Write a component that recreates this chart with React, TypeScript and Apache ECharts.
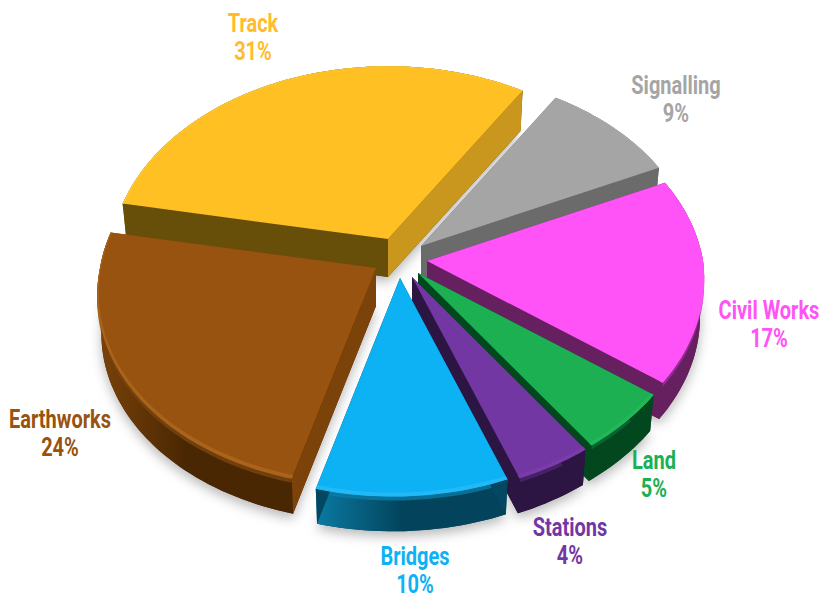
import React, { useEffect, useRef } from "react";
import * as echarts from "echarts";

const names = ["Track", "Signalling", "Civil Works", "Land", "Stations", "Bridges", "Earthworks"];
const shares = [31, 9, 17, 5, 4, 10, 24];

// styles
const topColors = ["#FFC024", "#A5A5A5", "#FF52F7", "#1CB053", "#7337A3", "#0DB2F4", "#97530F"];
const labelColors = ["#FFBC2C", "#A5A5A5", "#FF52F7", "#1CB053", "#7337A3", "#0DB2F4", "#97530F"];
const rimColors = ["#FFCC38", "#ABABAB", "#FF52F7", "#22B85A", "#7A3CA9", "#22B9F6", "#A9631A"];
const bevelColors = ["#8a6a10", "#777777", "#A030A0", "#0C6B35", "#4C2670", "#0A7CA8", "#7A4510"];
const wallLeft = ["#684F09", "#6B6B6B", "#661F5F", "#03471F", "#2C1542", "#0A7AA3", "#7A4208"];
const wallRight = ["#684F09", "#6B6B6B", "#661F5F", "#03471F", "#2C1542", "#03445C", "#4A2703"];
const startCut = ["#684F09", "#6B6B6B", "#661F5F", "#03471F", "#2C1542", "#034860", "#7B420A"];
const endCut = ["#C9971D", "#6B6B6B", "#661F5F", "#03471F", "#2C1542", "#034860", "#7B420A"];

// layout: slice apex on screen, label anchor
const apexX = [388, 421, 427, 418, 412, 400, 376];
const apexY = [239, 246, 261, 273, 277, 278, 268];
const labelX = [253, 676, 769, 654, 570, 415, 60];
const labelY = [38, 100, 325, 475, 542, 571, 434];

const START_DEG = -79.2;
const RX = 276;
const RY = 193;
const PERSP = 0.117;
const SKEW = 7;
const DEPTH = 38;
const TAPER = 0.985;
const STEP = 1.5;
const LABEL_SQUEEZE = 0.8;

function plate(i: number, deg: number, r: number, down = 0, taper = 1): number[] {
  const a = (deg * Math.PI) / 180;
  const u = Math.sin(a) * r;
  const v = -Math.cos(a) * r;
  const w = 1 / (1 - PERSP * v);
  const skew = SKEW * Math.max(0, v);
  return [apexX[i] + (RX * u * w - skew) * taper, apexY[i] + RY * v * w * taper + down];
}

function arc(i: number, a0: number, a1: number, r: number | ((deg: number) => number), down = 0, taper = 1): number[][] {
  const n = Math.max(2, Math.ceil((a1 - a0) / STEP));
  const pts: number[][] = [];
  for (let k = 0; k <= n; k++) {
    const d = a0 + ((a1 - a0) * k) / n;
    pts.push(plate(i, d, typeof r === "number" ? r : r(d), down, taper));
  }
  return pts;
}

function poly(points: number[][], style: any) {
  return { type: "polygon", shape: { points }, style };
}

function renderItem(params: any) {
  const i = params.dataIndex;
  const total = shares.reduce((s, v) => s + v, 0);
  let a0 = START_DEG;
  for (let k = 0; k < i; k++) a0 += (shares[k] / total) * 360;
  const a1 = a0 + (shares[i] / total) * 360;

  const apex = [apexX[i], apexY[i]];
  const apexLow = [apexX[i], apexY[i] + DEPTH];
  const topArc = arc(i, a0, a1, 1);
  const lowArc = arc(i, a0, a1, 1, DEPTH, TAPER);
  const rimInner = (d: number) => {
    const v = -Math.cos((d * Math.PI) / 180);
    return 1 - (0.004 + 0.012 * Math.max(0, v));
  };

  const children: any[] = [];
  const cast = { shadowBlur: 12, shadowColor: "rgba(0,0,0,0.28)", shadowOffsetY: 5 };
  // silhouette carrying the drop shadow
  children.push(poly([apexLow, ...lowArc], { fill: wallRight[i], ...cast }));
  // outer wall
  children.push(
    poly([...topArc, ...lowArc.slice().reverse()], {
      fill: new echarts.graphic.LinearGradient(0, 0, 1, 0, [
        { offset: 0, color: wallLeft[i] },
        { offset: 0.45, color: wallRight[i] },
        { offset: 1, color: wallRight[i] },
      ]),
    })
  );
  // soft bevel below the rim
  const bevelLow = arc(i, a0, a1, 1, 4);
  children.push(poly([...topArc, ...bevelLow.slice().reverse()], { fill: bevelColors[i], opacity: 0.8 }));
  // cut faces
  children.push(poly([apex, topArc[0], lowArc[0], apexLow], { fill: startCut[i] }));
  children.push(poly([apex, topArc[topArc.length - 1], lowArc[lowArc.length - 1], apexLow], { fill: endCut[i] }));
  // top face
  children.push(poly([apex, ...topArc], { fill: topColors[i] }));
  // rim highlight
  children.push(poly([...topArc, ...arc(i, a0, a1, rimInner).reverse()], { fill: rimColors[i] }));
  // label
  children.push({
    type: "text",
    x: labelX[i],
    y: labelY[i],
    scaleX: LABEL_SQUEEZE,
    style: {
      text: `${names[i]}\n${shares[i]}%`,
      x: 0,
      y: 0,
      fill: labelColors[i],
      font: "bold 25px Roboto",
      lineHeight: 28,
      align: "center",
      verticalAlign: "middle",
      textAlign: "center",
      textVerticalAlign: "middle",
    },
  });
  return { type: "group", children };
}

export default function App() {
  const ref = useRef<HTMLDivElement>(null);
  useEffect(() => {
    document.body.style.margin = "0";
    const chart = echarts.init(ref.current!, undefined, { renderer: "svg" });
    chart.setOption({
      animation: false,
      backgroundColor: "#ffffff",
      series: [
        {
          type: "custom",
          coordinateSystem: "none",
          clip: false,
          silent: true,
          data: shares.map((v, i) => ({ name: names[i], value: [v] })),
          renderItem,
        },
      ],
    });
    return () => chart.dispose();
  }, []);
  return <div ref={ref} style={{ width: 822, height: 599 }} />;
}
